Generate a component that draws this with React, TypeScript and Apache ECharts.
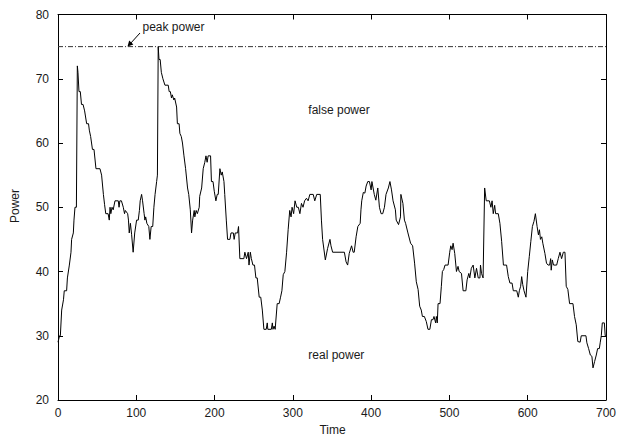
import React, { useEffect, useRef } from "react";
import * as echarts from "echarts";

const xTicks = [0, 100, 200, 300, 400, 500, 600, 700];
const yTicks = [20, 30, 40, 50, 60, 70, 80];
const peakPower = 75;

const times = [
  0, 2, 3, 4.7, 7, 8, 11, 12, 14.5, 16.6, 17.4, 19.6, 20.4, 21.7, 23.5, 24.7, 25.5, 26.8, 28.5, 30,
  32, 34, 36.6, 39, 40, 41.7, 44, 46, 48.5, 53.6, 55.7, 58, 59.5, 61, 64, 65.5, 66.5, 67.5, 69, 70.5,
  72.8, 77, 78, 79, 81, 83.4, 85, 86, 89, 90, 91, 92.5, 94, 96, 98, 100.4, 102.5, 104, 105, 106.8,
  108, 110, 111, 112, 113.5, 116, 117.4, 119, 121, 122.5, 124, 126, 127, 128, 129, 130.5, 132, 134, 136.6, 140.8,
  142, 143.5, 145, 146, 148, 149, 151.5, 152.5, 154.7, 155.7, 157.5, 159, 160.9, 163, 165.5, 167, 169, 170.6, 172, 174,
  174.8, 176.5, 178, 180.4, 181, 183.5, 185.5, 187.5, 189, 190.5, 191.8, 194.9, 196, 198, 199.6, 201.7, 203.4, 204.7, 206.8, 208.5,
  209.8, 212, 213, 215, 216.6, 219.6, 221, 224, 225, 226.4, 229.4, 230.6, 232.3, 237.4, 238.7, 240.8, 243, 244, 245.7, 247,
  249, 251, 252.8, 254.5, 257, 259, 261, 263, 266, 267.3, 268, 272.5, 273.8, 274.6, 276, 277.4, 280, 282.5, 284.3, 286,
  287.7, 289.8, 292, 294, 296, 297.7, 299, 301, 302.8, 305, 307, 309, 311, 313, 315, 317.4, 319.5, 321.7, 326, 328,
  330.5, 335, 336.5, 338, 341.5, 344.4, 347.4, 348.7, 350.8, 365.8, 368, 370, 372, 375, 377, 378.4, 380.8, 383, 386, 387,
  388, 390, 392, 393.6, 395.7, 397.8, 400, 401, 404, 406, 408.5, 410.6, 412.7, 414.8, 417, 419, 422, 424, 426, 428,
  431, 432, 435, 437.5, 438, 440.6, 442.5, 444, 447, 450.4, 453, 455.5, 457.7, 460, 462, 464, 465.5, 468, 470.5, 472.6,
  475, 477, 479, 480.3, 482.4, 483.3, 484.5, 485.5, 488, 489.7, 491, 492.7, 494.4, 498.3, 500.4, 501.7, 503.4, 504.7, 506.8, 509,
  511, 512.4, 515.4, 517.5, 521, 522.6, 524.8, 526, 528, 530.3, 532.5, 534.6, 536.8, 539, 539.7, 541, 543, 545, 547, 551,
  553, 554.5, 556, 557.8, 559, 562.4, 564.5, 566.7, 569, 573, 575.2, 577.3, 580, 581.6, 586, 588, 589.3, 591, 592.3, 593.6,
  595.3, 597.8, 600, 602, 604, 606, 608, 609.8, 610.5, 612, 613.7, 615, 616.3, 618, 619.3, 622, 624, 626, 628, 629.3,
  630, 631.4, 633, 637, 639, 641.2, 643.3, 645.5, 647.6, 649.2, 651.3, 653.5, 657.8, 659.8, 662, 664, 667, 668.4, 674.4, 675.6,
  677.8, 680, 682, 683.4, 685.5, 687.6, 689.3, 691.5, 692.7, 694, 695.3, 697.9, 699, 700,
];

const power = [
  29, 30, 30, 34, 35.6, 37, 37, 39, 41, 43, 45, 46, 48, 50, 50, 72, 71, 68, 68, 66,
  66, 65, 63, 63, 62, 61, 59, 59, 56, 56, 55, 52, 50.4, 49, 49, 48, 50, 49, 50, 49.6,
  51, 51, 50, 51, 51, 50, 49, 49.5, 49, 48, 46, 47.5, 45.8, 43, 46, 48, 48, 49.5, 51, 52,
  51, 49, 48, 48.5, 47.5, 47, 45, 47, 47, 50, 52, 54, 55, 75, 73, 73, 71, 70, 69, 69,
  68, 68, 67, 67.5, 66.7, 67, 65.6, 63, 63, 61.5, 61, 60, 58, 56, 53, 52, 49.6, 46, 48, 49.5,
  48.5, 49.5, 49, 50, 51.7, 53, 56, 57, 58, 57, 58, 58, 54, 54, 52.5, 51, 52, 52, 56, 55,
  55.5, 54, 52, 48, 45, 45, 46, 46, 45, 46, 46, 47, 42, 42, 43, 42, 43, 41, 43, 42,
  41, 41, 39, 39, 36, 36, 34, 31, 31, 32, 31, 31, 32, 31, 31.5, 31, 35, 35, 36, 37,
  39.5, 40, 43, 46.5, 49.5, 48.5, 50, 49, 51, 50, 50, 49, 50.6, 50, 51, 51.4, 51, 52, 52, 51,
  52, 52, 48, 45, 41.8, 43.6, 45, 44, 43, 43, 41.5, 41, 42.8, 44, 43, 43, 45.4, 47, 47.5, 49.6,
  51, 52.3, 52.2, 53.3, 54, 54, 52.7, 54, 52, 51.1, 53, 50, 49, 49, 50, 52, 53, 54, 52.7, 51,
  49.6, 48, 47.3, 48.5, 52, 50.6, 48, 47.5, 46, 44.4, 44, 41.3, 38.4, 37.2, 34.6, 34, 33, 33, 32.2, 31,
  31, 32.5, 32.5, 33, 32, 33, 32, 35, 35, 37.7, 40, 40.3, 41, 41, 43, 44, 43.4, 44.4, 42.8, 40,
  40.8, 40, 39.7, 37, 37, 38.7, 39.7, 39, 40.5, 41, 39, 40.5, 39, 39, 41, 39.7, 39, 53, 51, 51,
  50, 51, 49, 50.3, 49, 49, 47.5, 44.7, 41, 41, 39.2, 38.2, 38.2, 37, 37, 36, 37, 37.7, 39.2, 38,
  37, 36, 40, 42.3, 44.7, 47, 47.8, 49, 49, 47, 45.7, 46.5, 45, 45.4, 44.4, 42.8, 41.3, 41, 41, 42,
  40.2, 41.8, 41, 41, 42, 43, 42, 43, 43, 37.7, 37.2, 35, 35, 33, 31.7, 29.1, 29, 30, 30, 28.9,
  28, 27, 26.8, 25, 26, 27, 28, 28, 29, 30, 32, 32, 30, 30,
];

const FONT = "'Liberation Sans', Arial, Helvetica, sans-serif";
const TXT = "#1a1a1a";

export default function App() {
  const ref = useRef<HTMLDivElement>(null);
  useEffect(() => {
    if (!ref.current) return;
    const chart = echarts.init(ref.current, undefined, { renderer: "svg" });
    const lineData = times.map((t, i) => [t, power[i]]);
    const peakData = [
      [xTicks[0], peakPower],
      [xTicks[xTicks.length - 1], peakPower],
    ];
    const axisCommon = {
      type: "value" as const,
      splitLine: { show: false },
      axisLine: { show: true, onZero: false, lineStyle: { color: "#000", width: 1 } },
      axisTick: { show: true, inside: true, length: 5, lineStyle: { color: "#000", width: 1 } },
    };
    chart.setOption({
      animation: false,
      backgroundColor: "#fff",
      grid: { left: 58, right: 12, top: 14.5, bottom: 36, containLabel: false },
      xAxis: [
        {
          ...axisCommon,
          position: "bottom",
          min: xTicks[0],
          max: xTicks[xTicks.length - 1],
          interval: 100,
          axisLabel: { show: true, margin: 7, color: TXT, fontSize: 12, fontFamily: FONT },
        },
        {
          ...axisCommon,
          position: "top",
          min: xTicks[0],
          max: xTicks[xTicks.length - 1],
          interval: 100,
          axisLabel: { show: false },
        },
      ],
      yAxis: [
        {
          ...axisCommon,
          position: "left",
          min: yTicks[0],
          max: yTicks[yTicks.length - 1],
          interval: 10,
          axisLabel: { show: true, margin: 9, color: TXT, fontSize: 12, fontFamily: FONT },
        },
        {
          ...axisCommon,
          position: "right",
          min: yTicks[0],
          max: yTicks[yTicks.length - 1],
          interval: 10,
          axisLabel: { show: false },
        },
      ],
      series: [
        {
          type: "line",
          data: peakData,
          xAxisIndex: 0,
          yAxisIndex: 0,
          symbol: "none",
          silent: true,
          lineStyle: { color: "#333", width: 1, type: [5, 2, 1, 2] },
        },
        {
          type: "line",
          data: lineData,
          xAxisIndex: 0,
          yAxisIndex: 0,
          symbol: "none",
          silent: true,
          lineStyle: { color: "#000", width: 1 },
        },
      ],
      graphic: [
        {
          type: "text",
          left: 142.5,
          top: 20.5,
          style: { text: "peak power", fill: TXT, font: `12px ${FONT}` },
        },
        {
          type: "line",
          shape: { x1: 140, y1: 33, x2: 130, y2: 44 },
          style: { stroke: "#000", lineWidth: 1 },
        },
        {
          type: "polygon",
          shape: { points: [[127.5, 46.5], [129.2, 40.6], [133.4, 44.4]] },
          style: { fill: "#000" },
        },
        {
          type: "text",
          left: 308.3,
          top: 104,
          style: { text: "false power", fill: TXT, font: `12px ${FONT}` },
        },
        {
          type: "text",
          left: 308.3,
          top: 348.5,
          style: { text: "real power", fill: TXT, font: `12px ${FONT}` },
        },
        {
          type: "text",
          x: 15,
          y: 206,
          rotation: Math.PI / 2,
          style: { text: "Power", fill: TXT, font: `12px ${FONT}`, align: "center", verticalAlign: "middle" },
        },
        {
          type: "text",
          x: 332.5,
          y: 430,
          style: { text: "Time", fill: TXT, font: `12px ${FONT}`, align: "center", verticalAlign: "middle" },
        },
      ],
    });
    return () => chart.dispose();
  }, []);
  return (
    <div
      ref={ref}
      style={{ position: "fixed", left: 0, top: 0, width: 619, height: 436, background: "#fff" }}
    />
  );
}
